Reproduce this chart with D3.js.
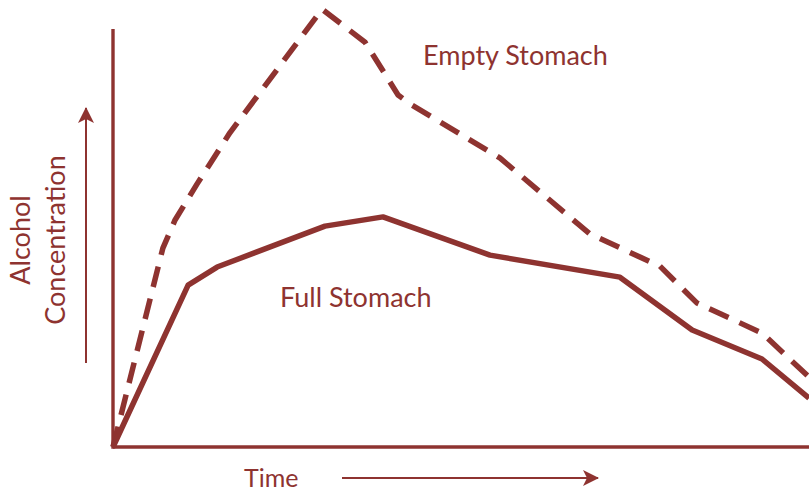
<!doctype html>
<html lang="en">
<head>
    <title>Alcohol Concentration</title>
    <script src='https://d3js.org/d3.v7.min.js'></script>
    <style>
        body { margin: 0; background: #fff; }
        text { font-family: Lato, "Open Sans", sans-serif; fill: #8e3330; }
    </style>
</head>
<body>
    <script>
        // time (min) and concentration (relative units)
        var fullTime  = [0, 25.9, 35.9, 73.1, 93.1, 130, 174.8, 199.7, 223.8, 240];
        var fullConc  = [0, 36.8, 40.9, 50.2, 52.3, 43.6, 38.6, 26.6, 20, 11.1];
        var emptyTime = [0, 17.2, 21.4, 29, 40.3, 72.1, 86.9, 98.3, 102.4, 133.4, 164.5, 188.6, 201.4, 223.8, 240];
        var emptyConc = [0, 45.2, 51.6, 59.8, 71.4, 99.5, 92, 80, 78, 65.7, 48.4, 41.1, 32.7, 25.9, 15.9];
        var seriesNames = ["Empty Stomach", "Full Stomach"];
        var xTitle = "Time";
        var yTitle = ["Alcohol", "Concentration"];

        var width = 809,
            height = 493,
            color = "#8e3330";

        var x = d3.scaleLinear().domain([0, 240]).range([113, 809]);
        var y = d3.scaleLinear().domain([0, 100]).range([447, 7]);

        var svg = d3.select("body").append("svg")
            .attr("width", width)
            .attr("height", height);

        svg.append("defs").append("marker")
            .attr("id", "arrow")
            .attr("viewBox", "0 0 16 16")
            .attr("refX", 15)
            .attr("refY", 8)
            .attr("markerWidth", 16)
            .attr("markerHeight", 16)
            .attr("markerUnits", "userSpaceOnUse")
            .attr("orient", "auto")
            .append("path")
            .attr("d", "M0,0 L16,8 L0,16 L4,8 Z")
            .attr("fill", color);

        // axes (plain lines, no ticks)
        svg.append("line")
            .attr("x1", x(0)).attr("y1", y(0))
            .attr("x2", x(240)).attr("y2", y(0))
            .attr("stroke", color).attr("stroke-width", 3.4);
        svg.append("line")
            .attr("x1", x(0)).attr("y1", y(0) + 1.7)
            .attr("x2", x(0)).attr("y2", y(95))
            .attr("stroke", color).attr("stroke-width", 3.4);

        var line = d3.line()
            .x(function(d) { return x(d[0]); })
            .y(function(d) { return y(d[1]); });

        svg.append("path")
            .datum(d3.zip(emptyTime, emptyConc))
            .attr("d", line)
            .attr("fill", "none")
            .attr("stroke", color)
            .attr("stroke-width", 5.5)
            .attr("stroke-linejoin", "round")
            .attr("stroke-dasharray", "21 12");

        svg.append("path")
            .datum(d3.zip(fullTime, fullConc))
            .attr("d", line)
            .attr("fill", "none")
            .attr("stroke", color)
            .attr("stroke-width", 5.5)
            .attr("stroke-linejoin", "round");

        // series labels
        svg.append("text")
            .attr("x", 423).attr("y", 65)
            .attr("font-size", 27)
            .text(seriesNames[0]);
        svg.append("text")
            .attr("x", 280).attr("y", 307)
            .attr("font-size", 27)
            .text(seriesNames[1]);

        // x title + arrow
        svg.append("text")
            .attr("x", 244).attr("y", 487)
            .attr("font-size", 25)
            .text(xTitle);
        svg.append("line")
            .attr("x1", 342).attr("y1", 478)
            .attr("x2", 598).attr("y2", 478)
            .attr("stroke", color).attr("stroke-width", 2)
            .attr("marker-end", "url(#arrow)");

        // y title + arrow
        var yt = svg.append("text")
            .attr("transform", "translate(0,240) rotate(-90)")
            .attr("text-anchor", "middle")
            .attr("font-size", 27);
        yt.append("tspan").attr("x", 0).attr("y", 30).text(yTitle[0]);
        yt.append("tspan").attr("x", 0).attr("y", 65).text(yTitle[1]);

        svg.append("line")
            .attr("x1", 86).attr("y1", 363)
            .attr("x2", 86).attr("y2", 108)
            .attr("stroke", color).attr("stroke-width", 2)
            .attr("marker-end", "url(#arrow)");
    </script>
</body>
</html>
